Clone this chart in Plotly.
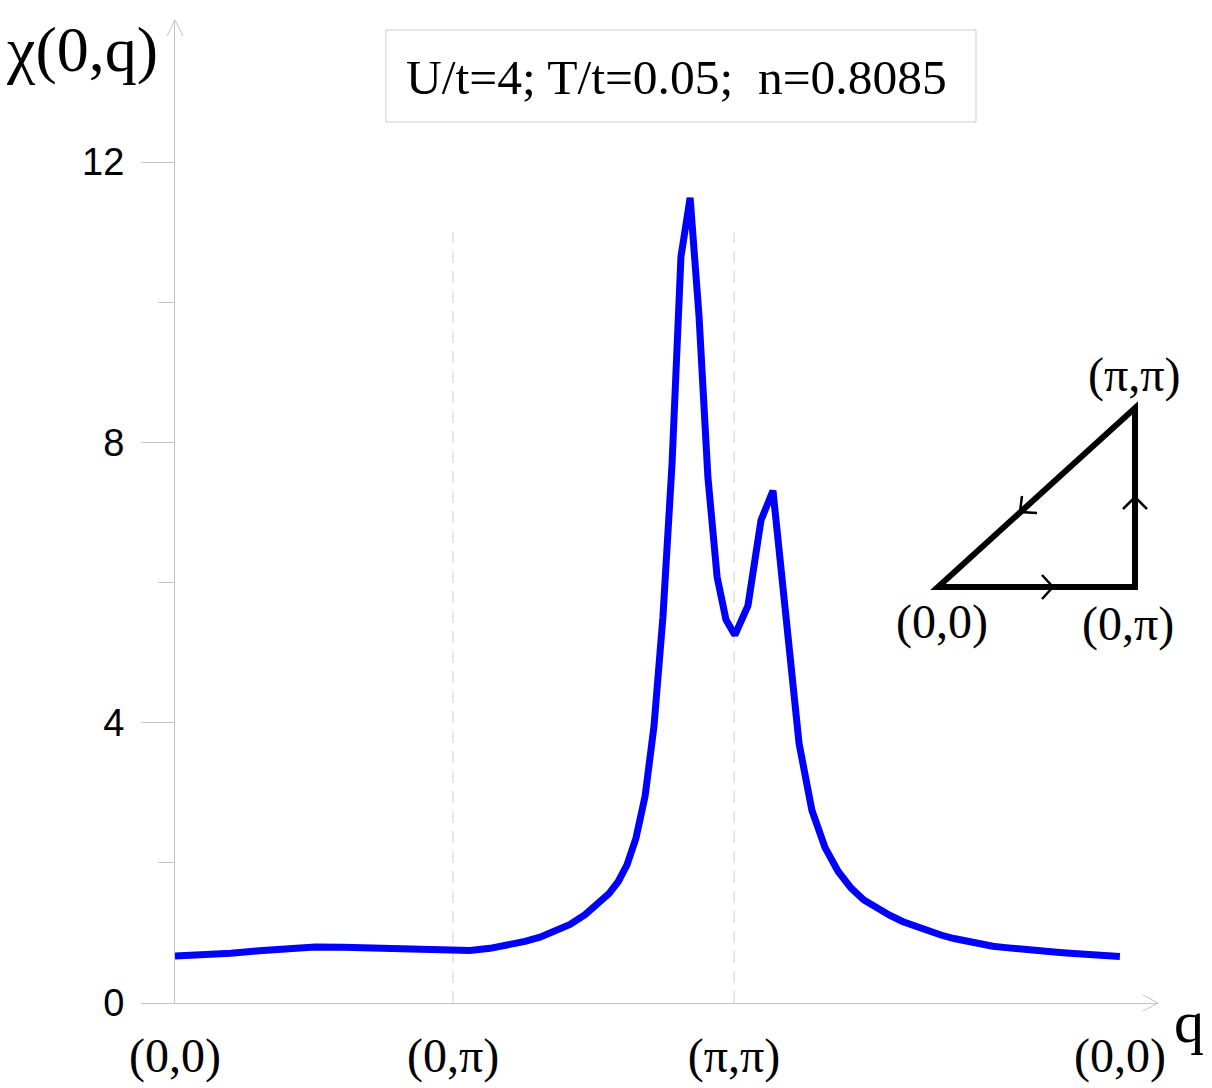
import plotly.graph_objects as go

# path coordinate along (0,0)->(0,pi)->(pi,pi)->(0,0)
q = [0.000, 0.101, 0.201, 0.302, 0.403, 0.504, 0.604, 0.705, 0.806, 0.906,
     1.000, 1.061, 1.133, 1.205, 1.259, 1.313, 1.367, 1.421, 1.475, 1.529,
     1.561, 1.594, 1.626, 1.658, 1.691, 1.723, 1.755, 1.788, 1.820, 1.853,
     1.885, 1.917, 1.950, 1.982, 2.014, 2.061, 2.108, 2.151, 2.201, 2.245,
     2.291, 2.338, 2.385, 2.432, 2.478, 2.525, 2.572, 2.619, 2.665, 2.709,
     2.755, 2.802, 2.849, 2.896, 2.942, 2.989, 3.032, 3.079, 3.126, 3.173,
     3.219, 3.266, 3.313, 3.360, 3.399]
chi = [0.67, 0.685, 0.71, 0.745, 0.785, 0.80, 0.795, 0.78, 0.765, 0.75,
       0.74, 0.75, 0.78, 0.83, 0.88, 0.94, 1.02, 1.12, 1.26, 1.43,
       1.56, 1.73, 1.97, 2.35, 2.95, 3.95, 5.50, 7.70, 10.65, 11.49,
       9.80, 7.50, 6.08, 5.47, 5.25, 5.67, 6.89, 7.31, 5.40, 3.70,
       2.75, 2.22, 1.88, 1.64, 1.47, 1.35, 1.25, 1.16, 1.09, 1.03,
       0.97, 0.92, 0.875, 0.84, 0.81, 0.79, 0.77, 0.755, 0.74, 0.725,
       0.71, 0.70, 0.685, 0.675, 0.665]

x_tick_vals = [0.0, 1.0, 2.011, 3.399]
x_tick_text = ["(0,0)", "(0,\u03c0)", "(\u03c0,\u03c0)", "(0,0)"]
y_major = [0, 4, 8, 12]
y_minor = [2, 6, 10]
dashed_at = [1.0, 2.011]
info_text = "U/t=4; T/t=0.05; \u00a0n=0.8085"

SERIF = "Liberation Serif, Times New Roman, serif"
SANS = "Liberation Sans, Arial, sans-serif"
AX = "#c4c4c4"

fig = go.Figure()
fig.add_trace(go.Scatter(x=q, y=chi, mode="lines",
                         line=dict(color="#0000ff", width=7),
                         showlegend=False, hoverinfo="skip"))

shapes = []
for xv in dashed_at:
    shapes.append(dict(type="line", xref="x", yref="y", x0=xv, x1=xv, y0=0, y1=11,
                       line=dict(color="#cfcfcf", width=1, dash="12px,8px"), layer="below"))

# axis arrowheads (paper coords)
shapes.append(dict(type="path", xref="paper", yref="paper",
                   path="M -0.0081 0.9837 L 0 1 L 0.0081 0.9837",
                   line=dict(color=AX, width=1)))
shapes.append(dict(type="path", xref="paper", yref="paper",
                   path="M 0.9847 0.0081 L 1 0 L 0.9847 -0.0081",
                   line=dict(color=AX, width=1)))

# info box
shapes.append(dict(type="rect", xref="paper", yref="paper",
                   x0=0.2146, x1=0.8149, y0=0.8962, y1=0.9898,
                   line=dict(color="#cccccc", width=1), fillcolor="white"))

# inset triangle
A = (0.7762, 0.4232); B = (0.9766, 0.4232); C = (0.9766, 0.6053)
shapes.append(dict(type="path", xref="paper", yref="paper",
                   path=f"M {A[0]} {A[1]} L {B[0]} {B[1]} L {C[0]} {C[1]} Z",
                   line=dict(color="black", width=6)))

def px(xp, yp):
    return ((xp - 175) / 983, (1003 - yp) / 983)

def chevron(pts):
    p = [px(*t) for t in pts]
    return dict(type="path", xref="paper", yref="paper",
                path=f"M {p[0][0]} {p[0][1]} L {p[1][0]} {p[1][1]} L {p[2][0]} {p[2][1]}",
                line=dict(color="black", width=2.5))

shapes.append(chevron([(1042, 575), (1053, 587), (1042, 599)]))
shapes.append(chevron([(1123, 509), (1135, 497), (1147, 509)]))
shapes.append(chevron([(1037, 513), (1020, 512), (1022, 496)]))

def lab(xp, yp, text, size=48):
    x, y = px(xp, yp)
    return dict(xref="paper", yref="paper", x=x, y=y, text=text, showarrow=False,
                xanchor="center", yanchor="middle",
                font=dict(family=SERIF, size=size, color="black"))

annotations = [
    lab(676, 77, info_text, 49.5),
    lab(82, 50, "\u03c7(0,q)", 64),
    lab(1189, 1022, "q", 60),
    lab(1134, 375, "(\u03c0,\u03c0)"),
    lab(942, 622, "(0,0)"),
    lab(1128, 624, "(0,\u03c0)"),
]

fig.update_layout(
    width=1212, height=1088,
    margin=dict(l=175, r=54, t=20, b=85, pad=0),
    plot_bgcolor="white", paper_bgcolor="white",
    shapes=shapes, annotations=annotations,
    xaxis=dict(range=[0, 3.536], showline=True, linecolor=AX, linewidth=1,
               showgrid=False, zeroline=False, ticks="", automargin=False,
               tickvals=x_tick_vals, ticktext=x_tick_text,
               tickfont=dict(family=SERIF, size=48, color="black"),
               ticklabelstandoff=10),
    yaxis=dict(range=[0, 14.027], showline=True, linecolor=AX, linewidth=1,
               showgrid=False, zeroline=False, ticks="outside", ticklen=33,
               tickcolor=AX, tickwidth=1, tickvals=y_major, automargin=False,
               tickfont=dict(family=SANS, size=38, color="black"),
               ticklabelstandoff=9,
               minor=dict(ticks="outside", ticklen=16, tickcolor=AX, tickwidth=1,
                          tickvals=y_minor, showgrid=False)),
)

fig.write_html("out.html")
